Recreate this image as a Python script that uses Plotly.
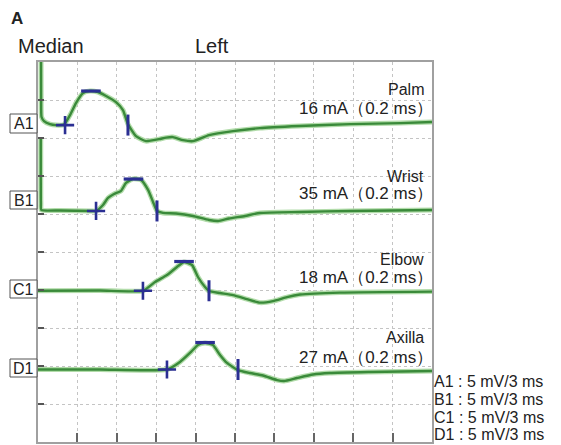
import plotly.graph_objects as go

# ---------------- data (time in ms, amplitude in mV relative to each baseline) -------------
a1_t = [0.23, 0.24, 0.27, 0.46, 0.91, 1.37, 1.98, 2.44, 2.89, 3.43, 3.96, 4.57, 5.18, 5.94, 6.47,
        6.85, 7.46, 8.22, 9.21, 9.75, 10.28, 11.04, 11.80, 13.02, 14.85, 16.9, 19.9, 23.8, 27.6, 30]
a1_v = [9.2, 2.2, 1.06, 0.53, 0.13, 0, 0.07, 1.32, 2.90, 4.22, 4.48, 4.35, 3.83, 3.03, 1.98,
        0.13, -1.45, -2.11, -1.85, -1.65, -1.58, -1.98, -2.11, -1.32, -0.79, -0.40, -0.13, 0.13, 0.26, 0.40]

b1_t = [0.21, 0.22, 0.25, 1.68, 4.04, 4.42, 4.95, 5.33, 5.79, 6.32, 6.70, 7.23, 7.84, 8.38, 8.76,
        9.06, 9.52, 10.51, 11.80, 13.02, 13.71, 14.54, 15.76, 16.90, 19.95, 23.76, 30]
b1_v = [9.7, 1.0, 0.13, 0.07, 0, 0, 0.79, 1.71, 2.24, 2.64, 3.69, 4.22, 4.09, 2.77, 1.19,
        0, -0.26, -0.33, -0.66, -1.19, -1.32, -0.99, -0.66, -0.26, -0.13, 0, 0.13]

c1_t = [0, 4.72, 7.99, 8.91, 9.82, 10.58, 11.12, 11.73, 12.18, 12.72, 13.02, 13.86, 14.85,
        15.91, 16.90, 17.89, 18.96, 19.95, 23.0, 30]
c1_v = [0, 0.03, 0, 1.15, 2.07, 3.13, 3.79, 3.39, 1.81, 0.49, -0.04, -0.30, -0.57,
        -1.09, -1.56, -1.36, -0.83, -0.50, -0.24, -0.11]

d1_t = [0, 4.72, 9.82, 10.81, 11.57, 12.18, 12.72, 13.32, 13.86, 14.39, 15.23, 16.14, 17.13,
        18.20, 18.73, 19.72, 20.94, 22.23, 25.28, 30]
d1_v = [0, 0, 0, 0.99, 2.18, 3.23, 3.50, 3.23, 1.91, 0.86, -0.07, -0.46, -0.79,
        -1.39, -1.52, -1.12, -0.66, -0.46, -0.33, -0.20]

# marker positions: onset (+), peak (-), end (|)
a1_mark_t = [2.06, 4.03, 6.85]
a1_mark_v = [0, 4.48, 0]
b1_mark_t = [4.42, 7.27, 9.06]
b1_mark_v = [0, 4.2, 0]
c1_mark_t = [7.99, 11.12, 13.02]
c1_mark_v = [0, 3.85, 0]
d1_mark_t = [9.82, 12.72, 15.23]
d1_mark_v = [0, 3.55, 0]

trace_names = ["A1", "B1", "C1", "D1"]
baselines = [41.7, 30.4, 19.9, 9.54]          # mV offsets on the 0-50 mV screen
sites = ["Palm", "Wrist", "Elbow", "Axilla"]
currents = ["16 mA（0.2 ms）", "35 mA（0.2 ms）", "18 mA（0.2 ms）", "27 mA（0.2 ms）"]
scales = ["A1 : 5 mV/3 ms", "B1 : 5 mV/3 ms", "C1 : 5 mV/3 ms", "D1 : 5 mV/3 ms"]

series_t = [a1_t, b1_t, c1_t, d1_t]
series_v = [a1_v, b1_v, c1_v, d1_v]
marks_t = [a1_mark_t, b1_mark_t, c1_mark_t, d1_mark_t]
marks_v = [a1_mark_v, b1_mark_v, c1_mark_v, d1_mark_v]

# ---------------- figure -------------
W, H = 561, 445
L, R, T, B = 38, 129, 62, 3
PW, PH = W - L - R, H - T - B

def px(x):
    return (x - L) / PW

def py(y):
    return (H - B - y) / PH

FONT = "Liberation Sans, Arial, Helvetica, sans-serif"
GREEN = "#3a8a3a"
GLOW = "#b2dcaa"
NAVY = "#2b2f93"

fig = go.Figure()

for t, v, off in zip(series_t, series_v, baselines):
    y = [off + a for a in v]
    fig.add_trace(go.Scatter(x=t, y=y, mode="lines",
                             line=dict(color=GLOW, width=5, shape="spline", smoothing=0.5),
                             hoverinfo="skip", showlegend=False))
    fig.add_trace(go.Scatter(x=t, y=y, mode="lines",
                             line=dict(color=GREEN, width=2.4, shape="spline", smoothing=0.5),
                             showlegend=False))

symbols = ["cross-thin", "line-ew", "line-ns"]
sizes = [13, 14, 15]
widths = [2.6, 3.2, 3.0]
for mt, mv, off in zip(marks_t, marks_v, baselines):
    for i in range(3):
        fig.add_trace(go.Scatter(
            x=[mt[i]], y=[off + mv[i]], mode="markers",
            marker=dict(symbol=symbols[i], size=sizes[i], color=NAVY,
                        line=dict(color=NAVY, width=widths[i])),
            showlegend=False))

annotations = []
shapes = []

def txt(text, x, y, xanchor="left", size=16, bold=False):
    annotations.append(dict(
        text=("<b>%s</b>" % text) if bold else text, x=px(x), y=py(y),
        xref="paper", yref="paper", xanchor=xanchor, yanchor="middle",
        showarrow=False, font=dict(family=FONT, size=size, color="#222222")))

txt("A", 9, 18, size=17, bold=True)
txt("Median", 16, 46, size=20)
txt("Left", 193, 46, size=20)

site_y = [89, 176, 259, 337.5]
cur_y = [108.5, 193.5, 277, 357.5]
for s, c, sy, cy in zip(sites, currents, site_y, cur_y):
    txt(s, 426, sy, xanchor="right")
    txt(c, 435, cy, xanchor="right", size=17)

scale_y = [381, 399, 417, 434]
for s, sy in zip(scales, scale_y):
    txt(s, 432, sy)

box_y = [(114, 133), (191, 209), (280, 298), (359, 377)]
for name, (y0, y1) in zip(trace_names, box_y):
    shapes.append(dict(type="rect", xref="paper", yref="paper",
                       x0=px(10), x1=px(37), y0=py(y1), y1=py(y0),
                       line=dict(color="#555555", width=1), fillcolor="white"))
    txt(name, 23.5, (y0 + y1) / 2 + 0.5, xanchor="center", size=16)

fig.update_layout(
    width=W, height=H,
    margin=dict(l=L, r=R, t=T, b=B),
    paper_bgcolor="white", plot_bgcolor="white",
    annotations=annotations, shapes=shapes,
    xaxis=dict(range=[0, 30], dtick=3, showgrid=True, gridcolor="#c4c4c4",
               griddash="dot", gridwidth=1, zeroline=False,
               showline=True, linecolor="#a0a0a0", linewidth=1.5, mirror=True,
               ticks="inside", ticklen=9, tickwidth=1.5, tickcolor="#666666",
               showticklabels=False, fixedrange=True),
    yaxis=dict(range=[0, 50], dtick=5, showgrid=True, gridcolor="#c4c4c4",
               griddash="dot", gridwidth=1, zeroline=False,
               showline=True, linecolor="#a0a0a0", linewidth=1.5, mirror=True,
               ticks="inside", ticklen=6, tickwidth=1.5, tickcolor="#555555",
               showticklabels=False, fixedrange=True),
)

fig.write_html("out.html", config={"displayModeBar": False},
               post_script="document.body.style.margin='0';document.body.style.overflow='hidden';")
